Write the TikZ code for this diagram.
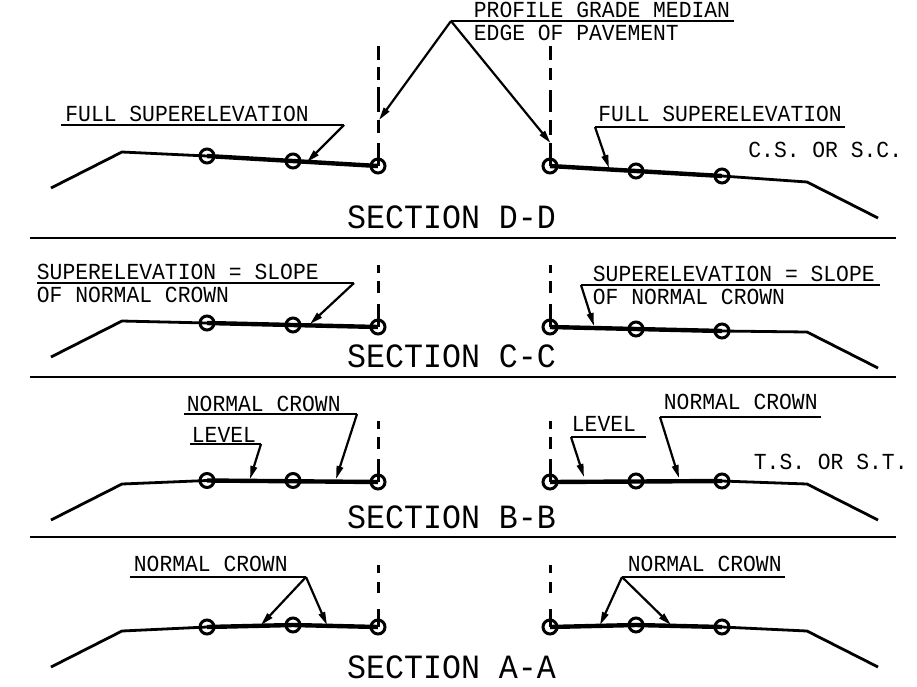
\documentclass[tikz,border=0pt]{standalone}
\usepackage{fontspec}
\setmainfont[FakeStretch=0.93]{Liberation Mono}
\usetikzlibrary{arrows.meta}
\tikzset{
  x=1pt,y=-1pt,
  lbl/.style={anchor=base west,inner sep=0pt,outer sep=0pt,xshift=-0.6pt,font=\fontsize{22.95}{24}\selectfont},
  ttl/.style={anchor=base west,inner sep=0pt,outer sep=0pt,yshift=-0.6pt,xshift=-0.3pt,font=\fontsize{34}{36}\selectfont},
  pnt/.style={circle,draw=black,line width=3pt,minimum size=14pt,inner sep=0pt,outer sep=0pt},
  road/.style={line width=2.8pt,line join=miter},
  thickroad/.style={line width=4.4pt},
  shelf/.style={line width=2.5pt},
  lead/.style={line width=2.2pt,-{Triangle[length=13pt,width=6.5pt]}},
  sep/.style={line width=2.8pt},
  cl/.style={line width=3pt},
}
\begin{document}
\begin{tikzpicture}
\useasboundingbox (0,0) rectangle (917,686);
% ---------- Section D-D
\coordinate (dl0) at (51,188); \coordinate (dl1) at (122,152);
\coordinate (dr1) at (807,182); \coordinate (dr0) at (878,218);
\node[pnt] (dla) at (207,156) {}; \node[pnt] (dlb) at (293,161) {}; \node[pnt] (dlc) at (378,166) {};
\node[pnt] (dra) at (550,166) {}; \node[pnt] (drb) at (636,171) {}; \node[pnt] (drc) at (722,176) {};
\draw[road] (dl0) -- (dl1) -- (dla.center);
\draw[thickroad] (dla.center) -- (dlc.center);
\draw[thickroad] (dra.center) -- (drc.center);
\draw[road] (drc.center) -- (dr1) -- (dr0);
\coordinate (dct) at (378.5,46); \coordinate (dcb) at (378.5,166); \coordinate (drt) at (550.5,46); \coordinate (drb2) at (550.5,166);
\draw[cl,dash pattern=on 14pt off 7pt on 13pt off 7pt on 25pt off 8pt on 13pt off 10pt on 30pt] (dct) -- (dcb);
\draw[cl,dash pattern=on 14pt off 8pt on 12pt off 10pt on 22pt off 8pt on 15pt off 8pt on 30pt] (drt) -- (drb2);
\coordinate (pg0) at (451,21); \coordinate (pg1) at (734,21);
\coordinate (pga) at (379,120); \coordinate (pgb) at (550.5,143);
\draw[shelf] (pg0) -- (pg1);
\draw[lead] (pg0) -- (pga);
\draw[lead] (pg0) -- (pgb);
\node[lbl] (t1) at (474.5,17) {PROFILE GRADE MEDIAN};
\node[lbl] (t2) at (474.5,40) {EDGE OF PAVEMENT};
\coordinate (f0) at (61,125); \coordinate (f1) at (344,125); \coordinate (fa) at (307,162);
\draw[shelf] (f0) -- (f1);
\draw[lead] (f1) -- (fa);
\node[lbl] (t3) at (66,121) {FULL SUPERELEVATION};
\coordinate (g0) at (845,127); \coordinate (g1) at (595,127); \coordinate (ga) at (609,168);
\draw[shelf] (g0) -- (g1);
\draw[lead] (g1) -- (ga);
\node[lbl] (t4) at (599,121) {FULL SUPERELEVATION};
\node[lbl] (t5) at (749,157) {C.S. OR S.C.};
\node[ttl] (td) at (347.5,228) {SECTION D-D};
\coordinate (s0) at (30,238); \coordinate (s0e) at (896,238);
\draw[sep] (s0) -- (s0e);
% ---------- Section C-C
\coordinate (cl0) at (51,357); \coordinate (cl1) at (122,321);
\coordinate (cr1) at (807,332); \coordinate (cr0) at (878,368);
\node[pnt] (cla) at (207,323) {}; \node[pnt] (clb) at (293,325) {}; \node[pnt] (clc) at (378,327) {};
\node[pnt] (cra) at (550,327) {}; \node[pnt] (crb) at (636,329) {}; \node[pnt] (crc) at (722,331) {};
\draw[road] (cl0) -- (cl1) -- (cla.center);
\draw[thickroad] (cla.center) -- (clc.center);
\draw[thickroad] (cra.center) -- (crc.center);
\draw[road] (crc.center) -- (cr1) -- (cr0);
\coordinate (cct) at (378.5,265); \coordinate (ccb) at (378.5,327); \coordinate (crt) at (550.5,265); \coordinate (crb2) at (550.5,327);
\draw[cl,dash pattern=on 8pt off 8pt on 12pt off 11pt on 30pt] (cct) -- (ccb);
\draw[cl,dash pattern=on 8pt off 8pt on 12pt off 11pt on 30pt] (crt) -- (crb2);
\coordinate (h0) at (37,283); \coordinate (h1) at (354,283); \coordinate (ha) at (310,324);
\draw[shelf] (h0) -- (h1);
\draw[lead] (h1) -- (ha);
\node[lbl] (t6) at (37.5,279) {SUPERELEVATION = SLOPE};
\node[lbl] (t7) at (37.5,302) {OF NORMAL CROWN};
\coordinate (i0) at (880,285); \coordinate (i1) at (581,285); \coordinate (ia) at (594,326);
\draw[shelf] (i0) -- (i1);
\draw[lead] (i1) -- (ia);
\node[lbl] (t8) at (593.5,281) {SUPERELEVATION = SLOPE};
\node[lbl] (t9) at (593.5,304) {OF NORMAL CROWN};
\node[ttl] (tc) at (347.5,367) {SECTION C-C};
\coordinate (s1) at (30,377); \coordinate (s1e) at (896,377);
\draw[sep] (s1) -- (s1e);
% ---------- Section B-B
\coordinate (bl0) at (51,520); \coordinate (bl1) at (122,484);
\coordinate (br1) at (807,484); \coordinate (br0) at (878,520);
\node[pnt] (bla) at (207,480.5) {}; \node[pnt] (blb) at (293,480.5) {}; \node[pnt] (blc) at (378,482) {};
\node[pnt] (bra) at (550,482) {}; \node[pnt] (brb) at (636,481) {}; \node[pnt] (brc) at (722,481) {};
\draw[road] (bl0) -- (bl1) -- (bla.center);
\draw[thickroad] (bla.center) -- (blc.center);
\draw[thickroad] (bra.center) -- (brc.center);
\draw[road] (brc.center) -- (br1) -- (br0);
\coordinate (bct) at (378.5,421); \coordinate (bcb) at (378.5,482); \coordinate (brt) at (550.5,421); \coordinate (brb2) at (550.5,482);
\draw[cl,dash pattern=on 8pt off 8pt on 12pt off 10pt on 30pt] (bct) -- (bcb);
\draw[cl,dash pattern=on 8pt off 8pt on 12pt off 10pt on 30pt] (brt) -- (brb2);
\coordinate (j0) at (184,414); \coordinate (j1) at (357,414); \coordinate (ja) at (336,479);
\draw[shelf] (j0) -- (j1);
\draw[lead] (j1) -- (ja);
\node[lbl] (t10) at (187.5,411) {NORMAL CROWN};
\coordinate (k0) at (190,444); \coordinate (k1) at (261,444); \coordinate (ka) at (250,479);
\draw[shelf] (k0) -- (k1);
\draw[lead] (k1) -- (ka);
\node[lbl] (t11) at (192.5,442) {LEVEL};
\coordinate (m0) at (646,437); \coordinate (m1) at (571,437); \coordinate (ma) at (584,477);
\draw[shelf] (m0) -- (m1);
\draw[lead] (m1) -- (ma);
\node[lbl] (t12) at (572.5,431) {LEVEL};
\coordinate (n0) at (821,417); \coordinate (n1) at (660,417); \coordinate (na) at (679,478);
\draw[shelf] (n0) -- (n1);
\draw[lead] (n1) -- (na);
\node[lbl] (t13) at (664.5,409) {NORMAL CROWN};
\node[lbl] (t14) at (754.5,469) {T.S. OR S.T.};
\node[ttl] (tb) at (347.5,528) {SECTION B-B};
\coordinate (s2) at (30,537); \coordinate (s2e) at (896,537);
\draw[sep] (s2) -- (s2e);
% ---------- Section A-A
\coordinate (al0) at (51,667); \coordinate (al1) at (122,631);
\coordinate (ar1) at (807,631); \coordinate (ar0) at (878,667);
\node[pnt] (ala) at (207,627) {}; \node[pnt] (alb) at (293,625) {}; \node[pnt] (alc) at (378,627) {};
\node[pnt] (ara) at (550,627) {}; \node[pnt] (arb) at (636,625) {}; \node[pnt] (arc) at (722,627) {};
\draw[road] (al0) -- (al1) -- (ala.center);
\draw[thickroad] (ala.center) -- (alb.center) -- (alc.center);
\draw[thickroad] (ara.center) -- (arb.center) -- (arc.center);
\draw[road] (arc.center) -- (ar1) -- (ar0);
\coordinate (act) at (378.5,565); \coordinate (acb) at (378.5,627); \coordinate (art) at (550.5,565); \coordinate (arb2) at (550.5,627);
\draw[cl,dash pattern=on 8pt off 9pt on 11pt off 16pt on 30pt] (act) -- (acb);
\draw[cl,dash pattern=on 8pt off 9pt on 11pt off 16pt on 30pt] (art) -- (arb2);
\coordinate (o0) at (130,577); \coordinate (o1) at (306,577);
\coordinate (oa) at (261,625); \coordinate (ob) at (327,625);
\draw[shelf] (o0) -- (o1);
\draw[lead] (o1) -- (oa);
\draw[lead] (o1) -- (ob);
\node[lbl] (t15) at (134.5,571) {NORMAL CROWN};
\coordinate (q0) at (785,577); \coordinate (q1) at (622,577);
\coordinate (qa) at (600,625); \coordinate (qb) at (671,625);
\draw[shelf] (q0) -- (q1);
\draw[lead] (q1) -- (qa);
\draw[lead] (q1) -- (qb);
\node[lbl] (t16) at (628.5,571) {NORMAL CROWN};
\node[ttl] (ta) at (347.5,678) {SECTION A-A};
\end{tikzpicture}
\end{document}
